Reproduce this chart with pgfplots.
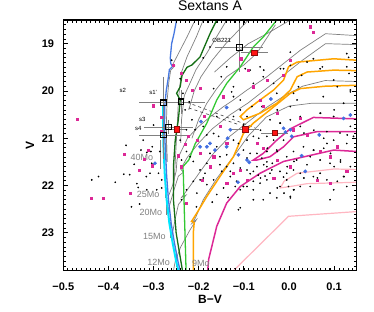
\documentclass[border=0pt]{standalone}
\usepackage{pgfplots}
\pgfplotsset{compat=1.18}
\usepackage{fontspec}
\setmainfont{Liberation Sans}
\definecolor{trkgray}{RGB}{128,128,128}
\definecolor{cblue}{RGB}{70,120,225}
\definecolor{ccyan}{RGB}{0,230,255}
\definecolor{dgreen}{RGB}{20,110,20}
\definecolor{lgreen}{RGB}{50,200,50}
\definecolor{corange}{RGB}{255,165,0}
\definecolor{cmag}{RGB}{220,40,150}
\definecolor{cpink}{RGB}{255,182,193}
\definecolor{dotblue}{RGB}{65,110,225}
\definecolor{redsq}{RGB}{255,20,20}
\definecolor{redsqd}{RGB}{140,10,10}
\pgfplotsset{trk/.style={trkgray, line width=0.7pt, no markers},
 base/.style={at={(63.3pt,41.3pt)}, anchor=south west,
 scale only axis, width=293.4pt, height=250.7pt,
 xmin=-0.5, xmax=0.15, ymin=18.5, ymax=23.8, y dir=reverse}}
\begin{document}
\begin{tikzpicture}
\useasboundingbox (0,0) rectangle (374pt,312pt);
% ================= frame / labels layer =================
\begin{axis}[base,
 xtick={-0.5,-0.4,-0.3,-0.2,-0.1,0,0.1},
 xticklabels={−0.5,−0.4,−0.3,−0.2,−0.1,0.0,0.1},
 ytick={19,20,21,22,23}, yticklabels={19,20,21,22,23},
 minor x tick num=9, minor y tick num=9,
 tick align=inside, xtick pos=both, ytick pos=both,
 major tick length=5pt, minor tick length=2.5pt,
 major tick style={black, line width=0.9pt},
 minor tick style={black, line width=0.7pt},
 axis line style={black, line width=1.4pt},
 xticklabel style={anchor=base, yshift=-19.3pt, inner sep=0pt, font=\bfseries\fontsize{11}{11}\selectfont},
 yticklabel style={anchor=east, xshift=-9pt, inner sep=0pt, font=\bfseries\fontsize{11}{11}\selectfont},
 title={Sextans A},
 title style={at={(axis description cs:0.5,1)}, anchor=base, yshift=4pt, inner sep=0pt, font=\fontsize{14}{14}\selectfont},
 xlabel={B−V},
 xlabel style={at={(axis description cs:0.5,-0.1316)}, anchor=base, inner sep=0pt, font=\bfseries\fontsize{12}{12}\selectfont},
 ylabel={V},
 ylabel style={at={(axis description cs:-0.1135,0.5)}, anchor=center, inner sep=0pt, font=\bfseries\fontsize{12}{12}\selectfont},
]
\addplot[trk, forget plot] coordinates {(-0.270,21.5) (-0.272,20.8)};
\end{axis}
% ================= data layer =================
\begin{axis}[base, hide axis, clip=false]
% ---- gray tracks ----
\addplot[trk] coordinates {(-0.270,21.5) (-0.272,20.8) (-0.270,20.2) (-0.266,19.8) (-0.262,19.56) (-0.253,19.47) (-0.258,19.45) (-0.245,19.21) (-0.226,18.86) (-0.208,18.5)};
\addplot[trk] coordinates {(-0.190,18.5) (-0.205,18.85) (-0.226,19.28) (-0.238,19.6) (-0.242,19.9) (-0.245,20.2) (-0.248,20.8) (-0.252,21.5) (-0.255,22.0)};
\addplot[trk] coordinates {(-0.138,18.5) (-0.160,18.85) (-0.182,19.2) (-0.206,19.55) (-0.220,19.85) (-0.232,20.1) (-0.238,20.6) (-0.240,21.1)};
\addplot[trk] coordinates {(-0.090,18.5) (-0.115,18.75) (-0.140,19.0) (-0.170,19.35) (-0.195,19.7) (-0.210,20.0) (-0.222,20.4)};
\addplot[trk] coordinates {(0.003,18.5) (-0.049,18.79) (-0.090,19.0) (-0.130,19.3) (-0.165,19.6)};
\addplot[trk] coordinates {(-0.030,18.6) (-0.071,19.2) (-0.100,19.45) (-0.138,19.70) (-0.160,19.95) (-0.182,20.26) (-0.200,20.6) (-0.215,21.0)};
\addplot[trk] coordinates {(0.15,18.83) (0.081,18.79) (0.025,19.14) (-0.012,19.42) (-0.049,19.70) (-0.093,19.98) (-0.123,20.19) (-0.145,20.33) (-0.175,20.55) (-0.200,20.75) (-0.225,21.0) (-0.240,21.3) (-0.248,21.45) (-0.250,21.7) (-0.258,22.0) (-0.266,22.2)};
\addplot[trk] coordinates {(0.15,19.02) (0.081,19.0) (0.030,19.35) (-0.010,19.65) (-0.050,19.95) (-0.090,20.25) (-0.130,20.5) (-0.170,20.8) (-0.200,21.1) (-0.225,21.4) (-0.240,21.65) (-0.234,21.72) (-0.245,21.8) (-0.255,22.1) (-0.264,22.4) (-0.270,22.6)};
\addplot[trk] coordinates {(0.15,19.80) (0.080,19.78) (0.030,19.9) (-0.010,20.1) (-0.050,20.35) (-0.090,20.65) (-0.130,20.95) (-0.170,21.35) (-0.200,21.75) (-0.226,22.1) (-0.238,22.25) (-0.228,22.2) (-0.245,22.4) (-0.252,22.7) (-0.260,23.1)};
\addplot[trk] coordinates {(0.15,20.26) (0.050,20.26) (0.000,20.32) (-0.050,20.55) (-0.090,20.95) (-0.120,21.35) (-0.160,21.85) (-0.190,22.3) (-0.207,22.68) (-0.215,22.8) (-0.205,22.72) (-0.220,22.95) (-0.240,23.3) (-0.252,23.6) (-0.256,23.8)};
% ZAMS markers
\addplot[trk] coordinates {(-0.286,21.04) (-0.286,21.66)};
\addplot[trk] coordinates {(-0.274,21.90) (-0.274,22.26)};
\addplot[trk] coordinates {(-0.271,22.30) (-0.271,22.62)};
\addplot[trk] coordinates {(-0.262,22.76) (-0.262,23.10)};
\addplot[trk] coordinates {(-0.250,23.42) (-0.250,23.72)};
% dashed
\addplot[black!75, line width=0.6pt, dashed] coordinates {(-0.226,20.24) (-0.075,20.78)};
\addplot[black!75, line width=0.6pt, dashed] coordinates {(-0.222,20.36) (-0.115,20.70)};
% ---- coloured tracks ----
\addplot[cpink, line width=1.2pt] coordinates {(0.15,21.66) (0.10,21.65) (0.018,21.74) (-0.011,21.91) (-0.019,22.05) (0.003,22.02) (0.040,21.96) (0.15,21.93)};
\addplot[cpink, line width=1.2pt] coordinates {(-0.123,23.8) (-0.001,22.65) (0.15,22.55)};
\addplot[cmag, line width=1.5pt] coordinates {(0.15,20.59) (0.054,20.56) (0.003,20.80) (-0.027,21.04) (-0.057,21.32) (-0.079,21.46) (-0.071,21.46) (-0.042,21.39) (-0.012,21.18) (0.010,20.97) (0.062,20.86) (0.15,20.86)};
\addplot[cmag, line width=1.5pt] coordinates {(0.15,21.28) (0.099,21.25) (-0.012,21.49) (-0.064,21.74) (-0.108,22.02) (-0.138,22.37) (-0.160,22.86) (-0.178,23.56) (-0.180,23.8)};
\addplot[corange, line width=1.5pt] coordinates {(-0.212,23.8) (-0.212,23.0) (-0.210,22.78) (-0.216,22.76) (-0.204,22.58) (-0.182,22.23) (-0.153,21.81) (-0.123,21.39) (-0.101,20.90) (-0.079,20.68) (-0.042,20.40) (0.003,20.05) (0.025,19.95) (0.080,19.90) (0.15,19.88)};
\addplot[corange, line width=1.5pt] coordinates {(0.15,19.35) (0.099,19.32) (0.018,19.39) (-0.001,19.49) (-0.012,19.77) (-0.034,19.98) (-0.064,20.19) (-0.093,20.40) (-0.108,20.54) (-0.101,20.61) (-0.064,20.47) (-0.027,20.26) (0.003,19.98) (0.018,19.70) (0.040,19.60) (0.099,19.56) (0.15,19.57)};
\addplot[lgreen, line width=1.3pt] coordinates {(-0.027,18.5) (-0.057,18.86) (-0.079,19.07) (-0.108,19.49) (-0.138,19.84) (-0.160,20.19) (-0.182,20.68) (-0.208,21.12) (-0.222,21.46) (-0.235,21.6) (-0.234,21.78) (-0.232,22.5) (-0.228,23.8)};
\addplot[dgreen, line width=1.3pt] coordinates {(-0.160,18.5) (-0.175,18.79) (-0.197,19.28) (-0.215,19.45) (-0.226,19.5) (-0.237,19.67) (-0.241,19.91) (-0.249,20.05) (-0.241,20.19) (-0.245,20.6) (-0.252,21.04) (-0.256,21.6) (-0.256,22.3) (-0.250,23.0) (-0.236,23.8)};
\addplot[ccyan, line width=2pt] coordinates {(-0.279,20.3) (-0.279,20.8) (-0.278,21.2) (-0.275,21.8) (-0.271,22.3) (-0.265,22.8) (-0.258,23.2) (-0.250,23.6) (-0.245,23.8)};
\addplot[cblue, line width=1.3pt] coordinates {(-0.249,18.5) (-0.255,18.8) (-0.260,19.0) (-0.263,19.3) (-0.262,19.42) (-0.258,19.48) (-0.265,19.55) (-0.267,19.7) (-0.272,20.0) (-0.275,20.3) (-0.276,20.8) (-0.274,21.2) (-0.271,21.8) (-0.267,22.3) (-0.261,22.8) (-0.254,23.2) (-0.246,23.6) (-0.241,23.8)};
% ---- stars ----
\addplot[only marks, mark=*, mark size=0.65pt, black] coordinates {
(-0.437,21.88) (-0.422,21.81) (-0.385,21.93) (-0.366,21.76) (-0.353,21.77) (-0.343,21.55) (-0.337,21.96) (-0.334,22.04)
(-0.316,21.81) (-0.349,22.45) (-0.331,22.39) (-0.328,21.25) (-0.306,21.28) (-0.361,21.15) (-0.323,21.04) (-0.315,21.30)
(-0.304,21.53) (-0.308,21.74) (-0.289,21.74) (-0.282,21.88) (-0.315,22.09) (-0.293,22.09) (-0.303,21.18) (-0.286,21.28)
(-0.282,22.05) (-0.300,20.72) (-0.260,19.35) (-0.241,19.74) (-0.235,20.05) (-0.230,20.40) (-0.221,20.23) (-0.215,20.61)
(-0.208,20.82) (-0.227,20.82) (-0.241,21.04) (-0.227,21.28) (-0.219,21.39) (-0.238,21.46) (-0.212,21.49) (-0.197,21.67)
(-0.182,21.53) (-0.175,21.32) (-0.160,21.18) (-0.153,21.39) (-0.186,21.74) (-0.197,21.88) (-0.212,21.91) (-0.227,22.09)
(-0.238,22.30) (-0.204,22.16) (-0.190,21.84) (-0.182,21.98) (-0.160,22.19) (-0.153,21.56) (-0.138,21.35) (-0.130,21.70)
(-0.108,21.63) (-0.093,21.42) (-0.079,21.70) (-0.116,21.91) (-0.108,22.47) (-0.167,21.88) (-0.149,21.70) (-0.138,21.60)
(-0.123,21.53) (-0.167,20.90) (-0.156,20.96) (-0.182,20.93) (-0.190,20.75) (-0.160,20.54) (-0.123,20.12) (-0.108,20.19)
(-0.123,20.54) (-0.108,20.40) (-0.093,20.54) (-0.082,20.33) (-0.101,20.72) (-0.079,20.96) (-0.093,21.04) (-0.112,21.11)
(-0.123,21.04) (-0.101,21.25) (-0.086,21.32) (-0.071,21.60) (-0.093,21.67) (-0.130,21.81) (-0.119,22.02) (-0.101,22.02)
(-0.079,21.91) (-0.112,22.51) (-0.064,21.95) (-0.049,21.88) (-0.042,21.74) (-0.049,21.60) (-0.020,21.70) (-0.005,21.74)
(0.010,21.67) (0.025,21.74) (0.054,21.81) (0.069,21.74) (0.084,21.88) (0.121,21.81) (0.136,21.60) (0.114,21.46)
(0.091,21.53) (0.069,21.46) (0.047,21.39) (0.017,21.46) (0.010,21.28) (0.032,21.18) (0.054,21.25) (0.084,21.11)
(0.099,21.04) (0.128,21.11) (0.143,20.96) (0.113,20.89) (0.136,20.75) (0.084,20.86) (0.099,20.54) (0.069,20.47)
(0.121,20.26) (0.076,20.12) (0.136,19.98) (0.099,19.77) (0.069,19.53) (0.128,19.49) (0.132,19.29) (0.054,19.32)
(0.028,19.67) (0.021,19.91) (0.010,20.05) (0.003,20.33) (-0.012,19.53) (0.003,19.46) (-0.034,19.84) (-0.027,20.05)
(-0.060,20.33) (-0.042,20.61) (-0.020,20.68) (0.025,20.75) (-0.012,21.04) (-0.034,21.04) (-0.049,20.96) (-0.049,21.28)
(-0.027,21.25) (-0.005,21.39) (0.010,22.09) (-0.005,21.88) (0.025,22.02) (0.047,22.02) (0.099,22.09) (0.128,22.02)
(0.003,22.23) (-0.020,22.02) (-0.042,22.16) (-0.057,22.30) (-0.079,22.30) (-0.027,22.26) (0.091,22.30) (-0.079,19.84)
(-0.064,19.49) (-0.057,19.70) (-0.097,19.53) (-0.167,19.95) (-0.123,19.91) (-0.056,19.56) (-0.019,19.53) (0.040,19.39)
(0.074,19.49) (0.128,19.21) (0.133,19.63) (0.107,19.91) (0.136,20.02) (0.018,20.19) (0.100,20.40) (0.070,20.47)
(0.025,20.54) (-0.026,20.40) (0.003,20.61) (-0.019,20.68) (0.033,20.89) (0.055,20.83) (0.077,21.00) (0.129,20.93)
(-0.063,20.83) (-0.067,21.00) (-0.048,21.21) (-0.026,21.28) (0.055,21.25) (0.077,21.21) (0.092,21.32) (0.114,21.50)
(-0.056,21.56) (-0.037,21.53) (-0.004,21.60) (0.011,21.49) (0.040,21.56) (0.100,21.60) (0.122,21.81) (-0.063,21.84)
(-0.026,22.05) (-0.011,22.16) (0.011,22.09) (0.003,22.26) (0.063,21.84) (0.033,21.84) (0.107,21.91) (-0.175,19.07)
(-0.138,19.49) (-0.086,19.56) (-0.127,20.02) (-0.190,19.30) (-0.150,19.70) (0.003,19.18)
(-0.071,21.32) (-0.060,21.42) (-0.049,21.50) (-0.038,21.67) (-0.012,21.82) (-0.001,22.02) (-0.053,21.80) (-0.068,21.78)
(-0.086,21.75) (-0.093,22.02) (-0.108,22.09) (-0.079,22.09) (-0.145,22.05) (-0.170,22.35) (-0.205,22.45) (-0.135,22.25)
};
\addplot[only marks, mark=square*, mark size=1.1pt, cmag] coordinates {
(-0.469,20.59) (-0.438,22.26) (-0.412,22.26) (-0.352,22.16) (-0.365,21.34) (-0.332,21.68) (-0.312,21.25) (-0.320,21.44)
(-0.303,21.58) (-0.300,20.31) (-0.283,20.55) (-0.283,20.85) (-0.256,19.46) (-0.238,19.62) (-0.228,19.77) (-0.215,19.98)
(-0.197,19.95) (-0.188,20.54) (-0.245,21.37) (-0.230,21.12) (-0.223,20.96) (-0.204,21.04) (-0.197,21.32) (-0.175,21.60)
(-0.227,22.37) (-0.193,21.88) (-0.145,20.12) (-0.153,20.75) (-0.138,21.11) (-0.123,21.74) (-0.138,21.95) (-0.167,21.39)
(-0.107,19.32) (-0.090,19.56) (-0.079,19.91) (-0.049,19.77) (-0.012,19.67) (0.003,19.35) (0.047,18.64) (0.054,18.75)
(-0.057,20.33) (-0.027,20.47) (0.010,20.82) (0.025,20.58) (-0.071,21.11) (-0.057,21.21) (-0.027,21.46) (0.003,21.60)
(0.040,20.93) (0.069,21.28) (0.091,21.39) (0.106,21.18) (0.128,21.70) (0.062,21.88) (-0.034,21.84) (-0.093,21.88)
(-0.108,21.67) (-0.238,21.60) (0.091,21.95) (-0.064,20.19)
};
\addplot[only marks, mark=*, mark size=1.7pt, dotblue] coordinates {
(-0.297,21.53) (-0.195,20.65) (-0.197,21.18) (-0.182,21.18) (-0.175,21.11) (-0.164,21.25) (-0.138,20.35) (-0.130,20.82)
(-0.136,21.00) (-0.138,21.18) (-0.113,21.93) (-0.112,21.35) (-0.093,21.46) (-0.088,21.51) (-0.040,20.17) (-0.012,20.79)
(-0.008,20.87) (0.003,20.82) (0.006,20.96) (0.028,21.37) (0.036,21.70) (0.067,20.93) (0.121,20.58) (0.136,20.51)
};
% ---- error bars drawn as segments ----
\addplot[trkgray, line width=0.6pt, unbounded coords=jump] coordinates {
(-0.163,19.08) (-0.057,19.08) (nan,nan) (-0.110,18.57) (-0.110,19.59) (nan,nan)
(-0.332,20.25) (-0.224,20.25) (nan,nan) (-0.278,19.70) (-0.278,20.80) (nan,nan)
(-0.293,20.23) (-0.185,20.23) (nan,nan) (-0.239,19.98) (-0.239,20.48) (nan,nan)
(-0.321,20.76) (-0.213,20.76) (nan,nan) (-0.267,20.61) (-0.267,20.91) (nan,nan)
(-0.332,20.93) (-0.224,20.93) (nan,nan) (-0.278,20.43) (-0.278,21.43) (nan,nan)
(-0.269,20.81) (-0.229,20.81) (nan,nan) (-0.127,20.81) (-0.067,20.81) (nan,nan)
(-0.062,20.89) (-0.002,20.89) (nan,nan) (-0.107,19.19) (-0.047,19.19)
};
\addplot[only marks, mark=square, mark size=2.8pt, line width=1.1pt, black] coordinates {
(-0.110,19.08) (-0.278,20.25) (-0.239,20.23) (-0.267,20.76) (-0.278,20.93)
};
\addplot[only marks, mark=square*, mark size=2.6pt, line width=0.6pt, draw=redsqd, fill=redsq] coordinates {
(-0.249,20.81) (-0.097,20.81) (-0.032,20.89) (-0.077,19.19)
};
% ---- labels ----
\node[font=\fontsize{9}{9}\selectfont, text=trkgray, inner sep=0pt] at (axis cs:-0.326,21.41) {40Mo};
\node[font=\fontsize{9}{9}\selectfont, text=trkgray, inner sep=0pt] at (axis cs:-0.312,22.18) {25Mo};
\node[font=\fontsize{9}{9}\selectfont, text=trkgray, inner sep=0pt] at (axis cs:-0.306,22.57) {20Mo};
\node[font=\fontsize{9}{9}\selectfont, text=trkgray, inner sep=0pt] at (axis cs:-0.298,23.08) {15Mo};
\node[font=\fontsize{9}{9}\selectfont, text=trkgray, inner sep=0pt] at (axis cs:-0.289,23.62) {12Mo};
\node[font=\fontsize{9}{9}\selectfont, text=trkgray, inner sep=0pt] at (axis cs:-0.195,23.65) {9Mo};
\node[font=\fontsize{6}{6}\selectfont, inner sep=0pt] at (axis cs:-0.368,19.98) {s2};
\node[font=\fontsize{6}{6}\selectfont, inner sep=0pt] at (axis cs:-0.301,20.04) {s1'};
\node[font=\fontsize{6}{6}\selectfont, inner sep=0pt] at (axis cs:-0.325,20.61) {s3};
\node[font=\fontsize{6}{6}\selectfont, inner sep=0pt] at (axis cs:-0.334,20.79) {s4};
\node[font=\fontsize{6}{6}\selectfont, inner sep=0pt] at (axis cs:-0.149,18.93) {OB221};
% ---- frame and ticks drawn explicitly on top ----
\pgfplotsinvokeforeach{-0.49,-0.48,...,0.145}{
 \draw[black, line width=0.7pt] (axis cs:#1,23.8) -- ++(0pt,2.5pt);
 \draw[black, line width=0.7pt] (axis cs:#1,18.5) -- ++(0pt,-2.5pt);
}
\pgfplotsinvokeforeach{-0.4,-0.3,-0.2,-0.1,0,0.1}{
 \draw[black, line width=0.9pt] (axis cs:#1,23.8) -- ++(0pt,5pt);
 \draw[black, line width=0.9pt] (axis cs:#1,18.5) -- ++(0pt,-5pt);
}
\pgfplotsinvokeforeach{18.6,18.7,...,23.75}{
 \draw[black, line width=0.7pt] (axis cs:-0.5,#1) -- ++(2.5pt,0pt);
 \draw[black, line width=0.7pt] (axis cs:0.15,#1) -- ++(-2.5pt,0pt);
}
\pgfplotsinvokeforeach{19,20,21,22,23}{
 \draw[black, line width=0.9pt] (axis cs:-0.5,#1) -- ++(5pt,0pt);
 \draw[black, line width=0.9pt] (axis cs:0.15,#1) -- ++(-5pt,0pt);
}
\draw[black, line width=1.4pt] (axis cs:-0.5,18.5) rectangle (axis cs:0.15,23.8);
\end{axis}
\end{tikzpicture}
\end{document}
